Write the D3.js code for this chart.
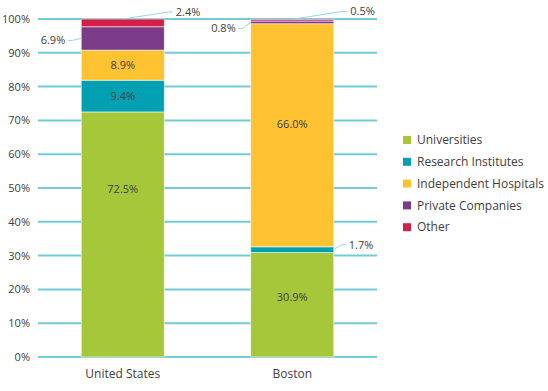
<!DOCTYPE html>
<html><head><meta charset="utf-8">
<script src="https://cdn.jsdelivr.net/npm/d3@7/dist/d3.min.js"></script>
<style>body{margin:0;background:#fff}svg{display:block;font-family:"Open Sans",sans-serif}</style>
</head><body><svg id="c" width="548" height="391"></svg>
<script>
const categories = ["United States", "Boston"];
const seriesNames = ["Universities", "Research Institutes", "Independent Hospitals", "Private Companies", "Other"];
const universities = [72.5, 30.9];
const researchInstitutes = [9.4, 1.7];
const independentHospitals = [8.9, 66.0];
const privateCompanies = [6.9, 0.8];
const other = [2.4, 0.5];
const yTicks = [0, 10, 20, 30, 40, 50, 60, 70, 80, 90, 100];
const colors = ["#a6c73a", "#00a0b3", "#ffc230", "#7b3b87", "#d41f48"];

const values = [universities, researchInstitutes, independentHospitals, privateCompanies, other];
const table = categories.map((c, i) => {
  const o = {cat: c};
  seriesNames.forEach((s, j) => o[s] = values[j][i]);
  return o;
});

const svg = d3.select("#c");
const m = {l: 38, r: 171, t: 19, b: 34};
const W = 548, H = 391;
const x = d3.scaleBand().domain(categories).range([m.l, W - m.r]).paddingInner(0.51).paddingOuter(0.255);
const y = d3.scaleLinear().domain([0, 100]).range([H - m.b, m.t]);

// gridlines
svg.append("g").selectAll("line").data(yTicks).join("line")
  .attr("x1", m.l).attr("x2", W - m.r)
  .attr("y1", d => y(d)).attr("y2", d => y(d))
  .attr("stroke", "#72cbd8").attr("stroke-width", 2);

// y axis labels
const yAxis = d3.axisLeft(y).tickValues(yTicks).tickFormat(d => d + "%").tickSize(0).tickPadding(8);
const ga = svg.append("g").attr("transform", `translate(${m.l},0)`).call(yAxis);
ga.select(".domain").remove();
ga.selectAll("text").attr("font-size", 11).attr("fill", "#404040").attr("font-family", "Open Sans");

// x axis labels
const xAxis = d3.axisBottom(x).tickSize(0).tickPadding(12);
const gx = svg.append("g").attr("transform", `translate(0,${y(0)})`).call(xAxis);
gx.select(".domain").remove();
gx.selectAll("text").attr("font-size", 12).attr("fill", "#404040").attr("font-family", "Open Sans");

const stack = d3.stack().keys(seriesNames)(table);

const layers = svg.append("g").selectAll("g").data(stack).join("g").attr("fill", (d, i) => colors[i]);
layers.selectAll("rect").data(d => d).join("rect")
  .attr("x", d => x(d.data.cat))
  .attr("width", x.bandwidth())
  .attr("y", d => y(Math.min(d[1], 100)))
  .attr("height", d => y(d[0]) - y(Math.min(d[1], 100)))
  .attr("stroke", "#fff").attr("stroke-width", 0.8).attr("stroke-opacity", 0.7);

// label placement (fraction of segment from bottom) for inside labels
const inside = {
  "Universities|United States": 0.686,
  "Universities|Boston": 0.576,
  "Research Institutes|United States": 0.5,
  "Independent Hospitals|United States": 0.5,
  "Independent Hospitals|Boston": 0.55
};
// callouts: side, text offset dx, dy from anchor
const callouts = {
  "Other|United States": {anchor: "top", tx: 50, ty: -7},
  "Private Companies|United States": {anchor: "left", tx: -13, ty: 2},
  "Other|Boston": {anchor: "top", tx: 55, ty: -8},
  "Private Companies|Boston": {anchor: "left", tx: -12, ty: 6},
  "Research Institutes|Boston": {anchor: "right", tx: 12, ty: -5}
};
const fmt = d3.format(".1f");
const lab = svg.append("g").attr("font-size", 11).attr("fill", "#404040").attr("font-family", "Open Sans");
stack.forEach(layer => {
  layer.forEach(d => {
    const key = layer.key + "|" + d.data.cat;
    const v = d.data[layer.key];
    const txt = fmt(v) + "%";
    if (inside[key] !== undefined) {
      const yy = y(d[0] + (Math.min(d[1], 100) - d[0]) * inside[key]);
      lab.append("text").attr("x", x(d.data.cat) + x.bandwidth() / 2).attr("y", yy)
        .attr("text-anchor", "middle").attr("dy", "0.35em").text(txt);
    } else if (callouts[key]) {
      const c = callouts[key];
      const mid = y((d[0] + Math.min(d[1], 100)) / 2);
      let ax, ay;
      if (c.anchor === "top") { ax = x(d.data.cat) + x.bandwidth() / 2; ay = y(Math.min(d[1], 100)); }
      else if (c.anchor === "left") { ax = x(d.data.cat); ay = mid; }
      else { ax = x(d.data.cat) + x.bandwidth(); ay = mid; }
      const ex = ax + c.tx, ey = ay + c.ty;
      const bend = c.tx > 0 ? ex - 4 : ex + 4;
      svg.append("path")
        .attr("d", `M${ax},${ay}L${bend},${ey}L${ex},${ey}`)
        .attr("fill", "none").attr("stroke", "#8fd8ea").attr("stroke-width", 1);
      lab.append("text").attr("x", c.tx > 0 ? ex + 3 : ex - 3).attr("y", ey)
        .attr("text-anchor", c.tx > 0 ? "start" : "end").attr("dy", "0.35em").text(txt);
    }
  });
});

// legend
const lg = svg.append("g").attr("transform", "translate(403,140)");
const items = lg.selectAll("g").data(seriesNames).join("g")
  .attr("transform", (d, i) => `translate(0,${i * 21.8})`);
items.append("rect").attr("x", 0).attr("y", -4).attr("width", 8).attr("height", 8).attr("fill", (d, i) => colors[i]);
items.append("text").attr("x", 14).attr("y", 0).attr("dy", "0.35em")
  .attr("font-size", 12).attr("fill", "#404040").attr("font-family", "Open Sans").text(d => d);
</script></body></html>
